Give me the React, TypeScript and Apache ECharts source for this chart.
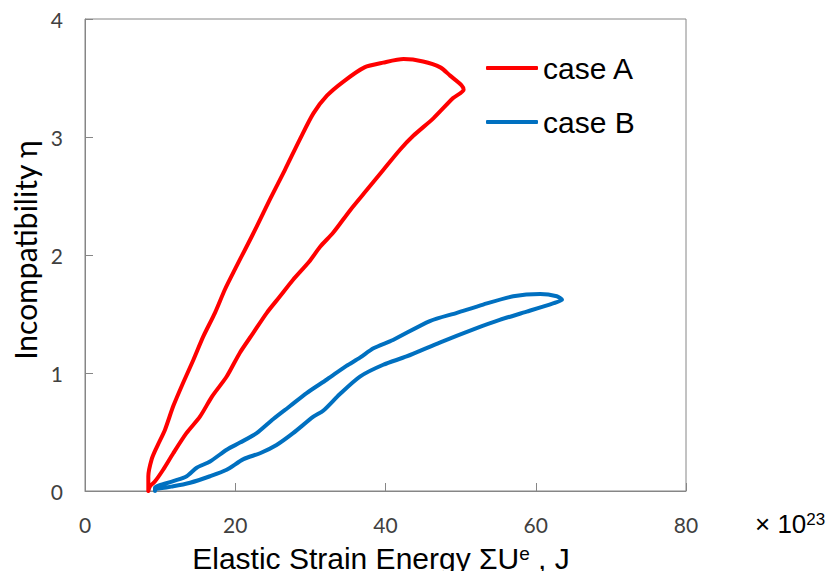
import React, { useEffect, useRef } from "react";
import * as echarts from "echarts";

const seriesNames = ["case A", "case B"];

const caseA: [number, number][] = [
  [8.43, 0.0], [8.43, 0.04], [8.43, 0.125], [8.88, 0.27], [9.54, 0.37], [10.65, 0.52],
  [11.75, 0.72], [13.08, 0.92], [14.42, 1.11], [15.75, 1.31], [17.3, 1.51], [18.64, 1.71],
  [19.97, 1.88], [21.5, 2.07], [22.85, 2.24], [24.6, 2.47], [26.6, 2.72], [28.6, 2.98],
  [30.4, 3.2], [32.2, 3.35], [34.4, 3.47], [37.2, 3.59], [39.7, 3.63], [42.4, 3.66],
  [45.0, 3.64], [47.3, 3.59], [48.6, 3.52], [50.1, 3.44], [50.4, 3.4],
  [49.0, 3.33], [46.4, 3.16], [43.7, 3.01], [41.9, 2.89], [39.7, 2.72], [37.5, 2.55],
  [35.3, 2.38], [33.05, 2.19], [31.3, 2.07], [29.8, 1.94], [27.7, 1.79],
  [25.96, 1.65], [24.2, 1.51], [22.4, 1.34], [20.6, 1.17], [18.86, 0.97], [16.9, 0.8],
  [15.3, 0.63], [13.5, 0.49], [11.75, 0.32], [10.4, 0.18], [9.3, 0.08], [8.65, 0.04],
  [8.43, 0.0],
];

const caseB: [number, number][] = [
  [9.32, 0.0], [9.32, 0.027], [11.75, 0.083], [13.54, 0.125], [14.87, 0.197], [16.64, 0.25],
  [18.86, 0.35], [20.63, 0.41], [22.85, 0.49], [25.07, 0.61], [27.3, 0.72], [29.5, 0.83],
  [32.2, 0.945], [34.8, 1.06], [36.6, 1.13], [38.4, 1.21], [41.0, 1.28], [45.9, 1.44],
  [49.5, 1.51], [53.0, 1.58], [57.0, 1.65], [60.6, 1.67], [62.8, 1.65], [63.5, 1.62],
  [62.3, 1.59], [58.8, 1.52], [55.2, 1.45], [51.7, 1.37], [47.3, 1.26], [42.8, 1.14],
  [39.7, 1.07], [36.6, 0.97], [33.9, 0.82], [31.7, 0.68], [30.4, 0.63], [27.7, 0.49],
  [25.5, 0.39], [23.3, 0.32], [21.1, 0.27], [18.86, 0.18], [16.64, 0.125], [14.0, 0.07],
  [11.75, 0.04], [9.54, 0.02], [9.32, 0.027],
];

const xTicks = { min: 0, max: 80, interval: 20 };
const yTicks = { min: 0, max: 4, interval: 1 };

export default function App() {
  const ref = useRef<HTMLDivElement>(null);
  useEffect(() => {
    if (!ref.current) return;
    const chart = echarts.init(ref.current, undefined, { renderer: "svg" });
    const tickFont = "Lato, 'Noto Sans', sans-serif";
    const arial = "'Liberation Sans', Arial, sans-serif";
    chart.setOption({
      animation: false,
      backgroundColor: "#ffffff",
      grid: {
        left: 85, top: 19, width: 601, height: 472,
        show: true, borderColor: "#868686", borderWidth: 1, backgroundColor: "transparent",
      },
      xAxis: {
        type: "value", min: xTicks.min, max: xTicks.max, interval: xTicks.interval,
        axisLine: { show: true, lineStyle: { color: "#868686", width: 1 } },
        axisTick: { show: true, inside: true, length: 8, lineStyle: { color: "#868686" } },
        axisLabel: { margin: 23, fontSize: 21, color: "#404040", fontFamily: tickFont },
        splitLine: { show: false },
      },
      yAxis: {
        type: "value", min: yTicks.min, max: yTicks.max, interval: yTicks.interval,
        axisLine: { show: true, lineStyle: { color: "#868686", width: 1 } },
        axisTick: { show: true, inside: true, length: 8, lineStyle: { color: "#868686" } },
        axisLabel: { margin: 22, fontSize: 21, color: "#404040", fontFamily: tickFont },
        splitLine: { show: false },
      },
      legend: {
        orient: "vertical", left: 481, top: 48, itemWidth: 52, itemHeight: 4, itemGap: 24,
        icon: "roundRect",
        textStyle: { fontSize: 30, color: "#000", fontFamily: arial, lineHeight: 30 },
        data: seriesNames,
      },
      series: [
        {
          name: seriesNames[0], type: "line", data: caseA, showSymbol: false, symbol: "none",
          smooth: 0.25, lineStyle: { color: "#FF0000", width: 4, cap: "round", join: "round" },
          itemStyle: { color: "#FF0000" },
        },
        {
          name: seriesNames[1], type: "line", data: caseB, showSymbol: false, symbol: "none",
          smooth: 0.25, lineStyle: { color: "#0070C0", width: 4, cap: "round", join: "round" },
          itemStyle: { color: "#0070C0" },
        },
      ],
      graphic: [
        {
          type: "text", x: 25, y: 250, rotation: Math.PI / 2,
          style: {
            text: "Incompatibility η", fontSize: 30, fontFamily: tickFont, fill: "#000",
            align: "center", verticalAlign: "middle",
          },
        },
        {
          type: "text", x: 381, y: 558,
          style: {
            text: "{a|Elastic Strain Energy ΣU}{s|e}{a| , J}",
            align: "center", verticalAlign: "middle", fill: "#000",
            rich: {
              a: { fontSize: 30, fontFamily: arial, fill: "#000" },
              s: { fontSize: 19, fontFamily: arial, fill: "#000", padding: [0, 0, 10, 0] },
            },
          },
        },
        {
          type: "text", x: 755, y: 524,
          style: {
            text: "{a|× 10}{s|23}",
            align: "left", verticalAlign: "middle", fill: "#000",
            rich: {
              a: { fontSize: 26, fontFamily: arial, fill: "#000" },
              s: { fontSize: 17, fontFamily: arial, fill: "#000", padding: [0, 0, 9, 0] },
            },
          },
        },
      ],
    });
    return () => chart.dispose();
  }, []);
  return <div ref={ref} style={{ width: 834, height: 579, margin: -8 }} />;
}
